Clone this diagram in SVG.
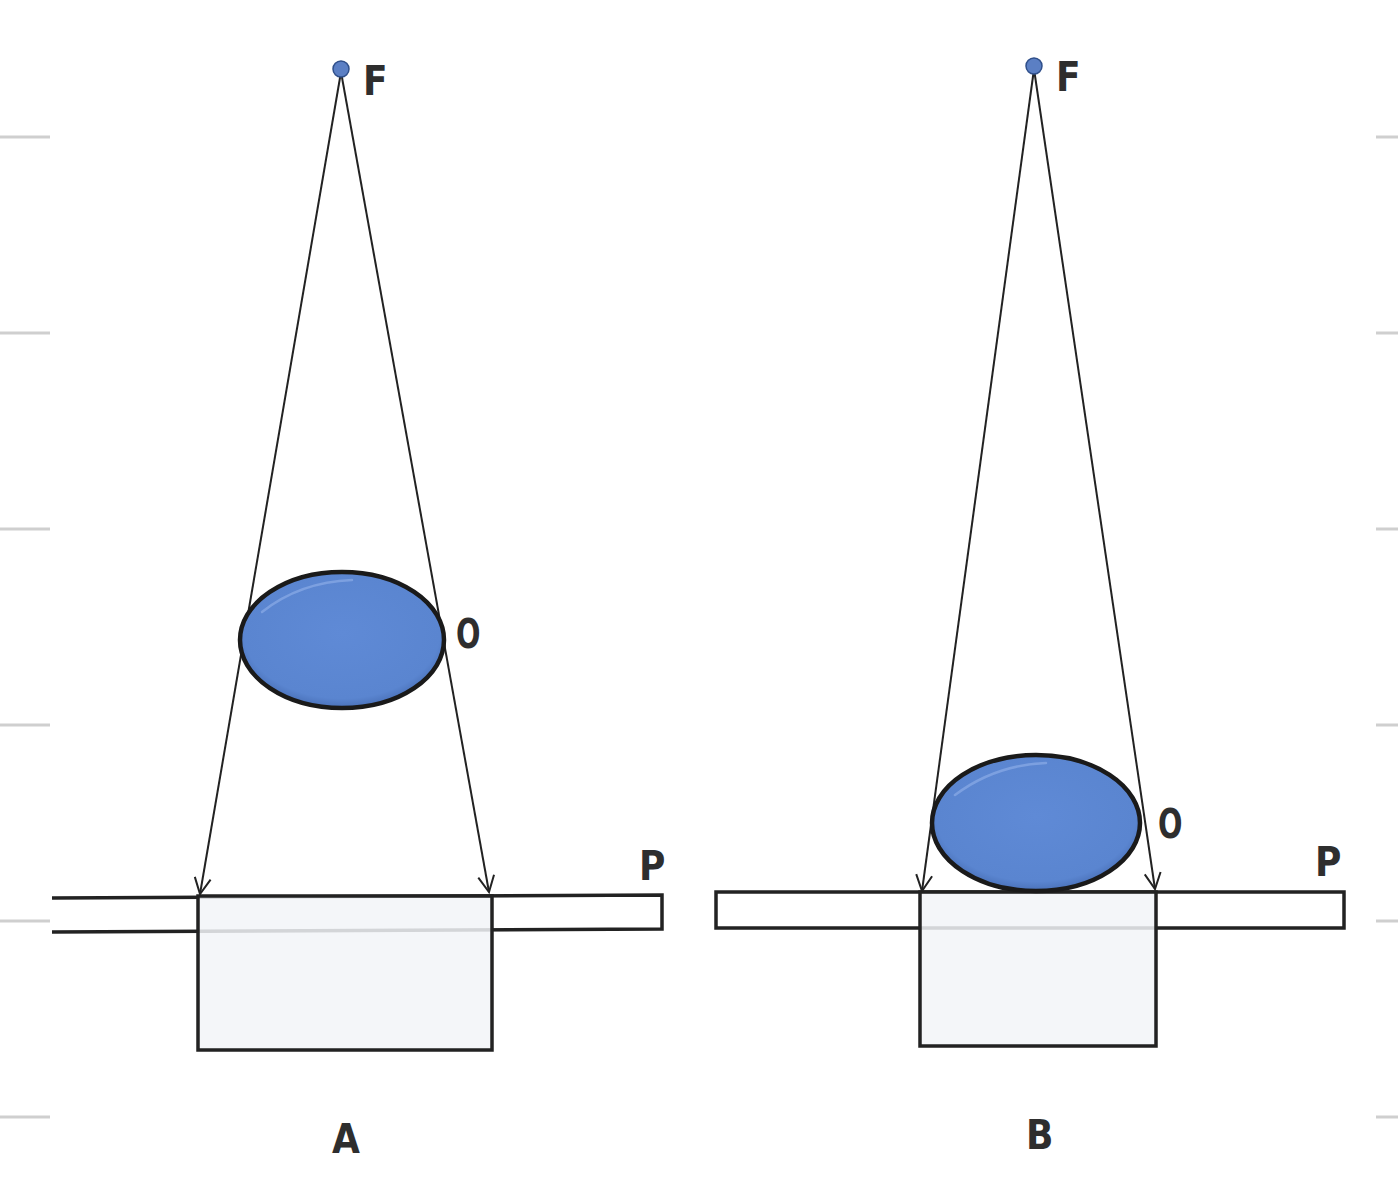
<svg xmlns="http://www.w3.org/2000/svg" width="1398" height="1200" viewBox="0 0 1398 1200">
<style>
.lbl{font-family:"DejaVu Sans Condensed","DejaVu Sans","Liberation Sans",sans-serif;font-weight:bold;font-size:40px;fill:#2e2e2e}
.ray{stroke:#222;stroke-width:2;fill:none}
.edge{stroke:#222;stroke-width:3.5;fill:none}
.tick{stroke:#cfcfcf;stroke-width:3}
.obj{fill:url(#blue);stroke:#1a1a1a;stroke-width:4.5}
.box{fill:#f2f4f8;fill-opacity:0.85;stroke:#222;stroke-width:3.5}
.src{fill:#5b7fc4;stroke:#2f4f8a;stroke-width:1.5}
</style>
<defs>
<radialGradient id="blue" cx="0.5" cy="0.45" r="0.6">
<stop offset="0" stop-color="#5f8ad6"/>
<stop offset="0.8" stop-color="#5a85d0"/>
<stop offset="1" stop-color="#3e63a8"/>
</radialGradient>
<marker id="arr" markerWidth="20" markerHeight="20" refX="18" refY="10" orient="auto" markerUnits="userSpaceOnUse">
<path d="M2,2 L18,10 L2,18" fill="none" stroke="#222" stroke-width="2"/>
</marker>
</defs>
<rect width="1398" height="1200" fill="#ffffff"/>
<g id="page-ticks">
<line class="tick" x1="0" y1="137" x2="50" y2="137"/>
<line class="tick" x1="0" y1="333" x2="50" y2="333"/>
<line class="tick" x1="0" y1="529" x2="50" y2="529"/>
<line class="tick" x1="0" y1="725" x2="50" y2="725"/>
<line class="tick" x1="0" y1="921" x2="50" y2="921"/>
<line class="tick" x1="0" y1="1117" x2="50" y2="1117"/>
<line class="tick" x1="1376" y1="137" x2="1398" y2="137"/>
<line class="tick" x1="1376" y1="333" x2="1398" y2="333"/>
<line class="tick" x1="1376" y1="529" x2="1398" y2="529"/>
<line class="tick" x1="1376" y1="725" x2="1398" y2="725"/>
<line class="tick" x1="1376" y1="921" x2="1398" y2="921"/>
<line class="tick" x1="1376" y1="1117" x2="1398" y2="1117"/>
</g>
<g id="plate-A">
<path class="edge" d="M52,898 L662,895 L662,929 L52,932"/>
</g>
<g id="detector-A">
<rect class="box" x="198" y="896" width="294" height="154"/>
</g>
<g id="plate-B">
<rect class="edge" x="716" y="892" width="628" height="36"/>
</g>
<g id="detector-B">
<rect class="box" x="920" y="892" width="236" height="154"/>
</g>
<g id="connectors">
<line class="ray" x1="341" y1="72" x2="200" y2="894" marker-end="url(#arr)"/>
<line class="ray" x1="341" y1="72" x2="489" y2="892" marker-end="url(#arr)"/>
<line class="ray" x1="1034" y1="69" x2="922" y2="891" marker-end="url(#arr)"/>
<line class="ray" x1="1034" y1="69" x2="1155" y2="889" marker-end="url(#arr)"/>
</g>
<g id="object-A">
<ellipse class="obj" cx="342" cy="640" rx="102" ry="68"/>
<path d="M262,612 Q300,582 352,580" fill="none" stroke="#9dbaf0" stroke-width="2.5" stroke-linecap="round" opacity="0.5"/>
</g>
<g id="object-B">
<ellipse class="obj" cx="1036" cy="823" rx="104" ry="68"/>
<path d="M955,795 Q995,765 1046,763" fill="none" stroke="#9dbaf0" stroke-width="2.5" stroke-linecap="round" opacity="0.5"/>
</g>
<g id="source-A">
<circle class="src" cx="341" cy="69" r="8"/>
<text class="lbl" x="363" y="95">F</text>
</g>
<g id="source-B">
<circle class="src" cx="1034" cy="66" r="8"/>
<text class="lbl" x="1056" y="91">F</text>
</g>
<text class="lbl" x="456" y="648" transform="translate(456 0) scale(0.8 1) translate(-456 0)">O</text>
<text class="lbl" x="1158" y="838" transform="translate(1158 0) scale(0.8 1) translate(-1158 0)">O</text>
<text class="lbl" x="639" y="880">P</text>
<text class="lbl" x="1315" y="876">P</text>
<text class="lbl" x="332" y="1153">A</text>
<text class="lbl" x="1026" y="1149">B</text>
</svg>
